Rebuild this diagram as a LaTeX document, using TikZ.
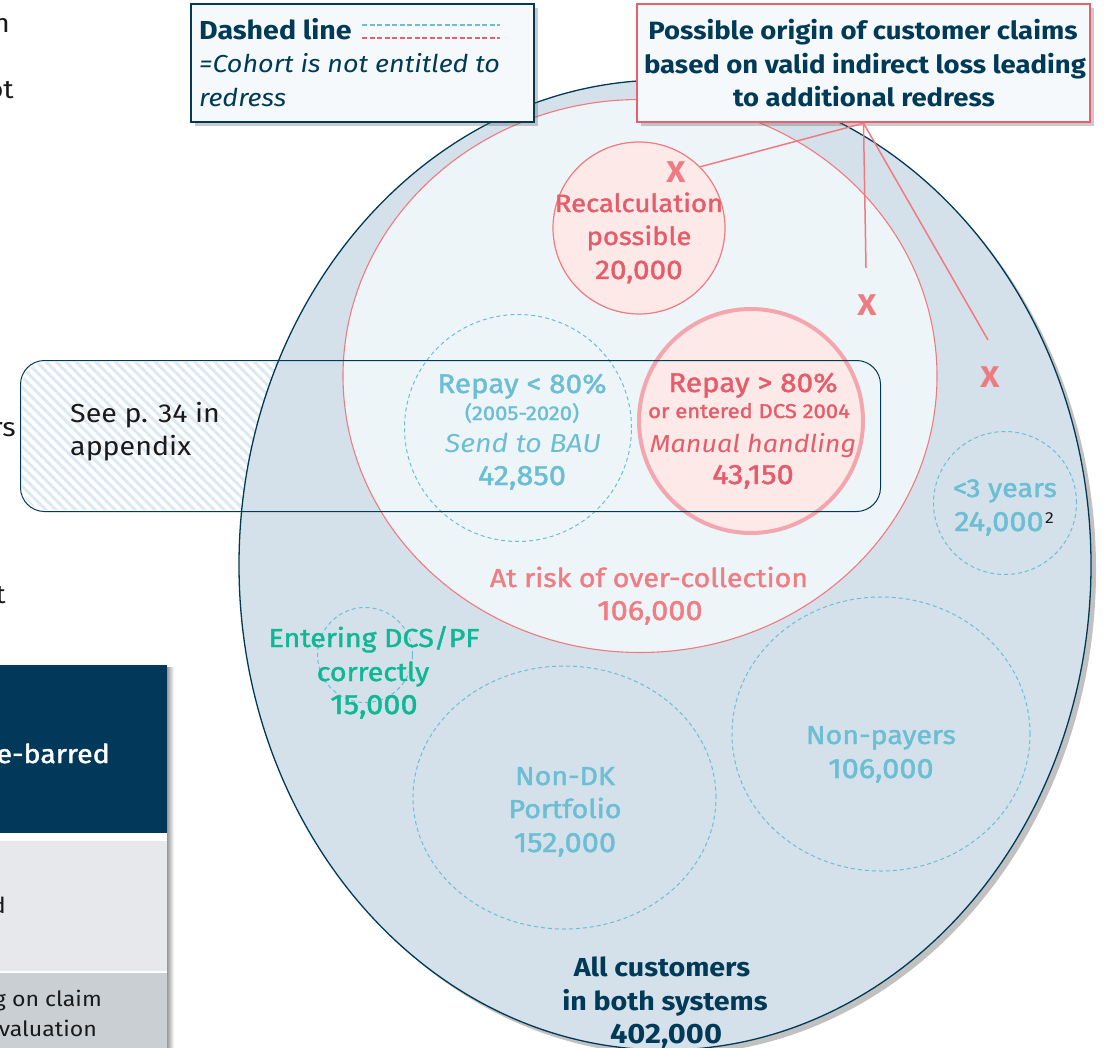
\documentclass[tikz,border=0pt]{standalone}
\usepackage{fontspec}
\setmainfont{Fira Sans}[FakeStretch=1.1]
\newfontfamily\fmed{Fira Sans}[FakeStretch=1.1,FakeBold=1.6]
\usetikzlibrary{shapes.geometric,shadows,patterns.meta}
\definecolor{navy}{HTML}{003A57}
\definecolor{outerfill}{HTML}{D4E1EA}
\definecolor{innerfill}{HTML}{EEF5F9}
\definecolor{redline}{HTML}{E8606F}
\definecolor{redc}{HTML}{F07A82}
\definecolor{pinkfill}{HTML}{FCE9E8}
\definecolor{pinkthick}{HTML}{F3A6AE}
\definecolor{cyan1}{HTML}{6BBED3}
\definecolor{teal1}{HTML}{10B795}
\definecolor{xred}{HTML}{EF7B82}
\definecolor{redtxt}{HTML}{E55C6A}
\definecolor{risktxt}{HTML}{EF7E84}
\definecolor{hatch}{HTML}{DCE9F3}
\definecolor{boxfill}{HTML}{F5F9FC}
\definecolor{hdr}{HTML}{02385A}
\definecolor{row2}{HTML}{E6E8EB}
\definecolor{row3}{HTML}{CACFD3}
\definecolor{ink}{HTML}{1A1A1A}
\newcommand{\SzF}[1]{\fontsize{#1}{#1}\selectfont}
\begin{document}
\begin{tikzpicture}[x=1pt,y=-1pt,
  t/.style={inner sep=0pt, anchor=base},
  tl/.style={inner sep=0pt, anchor=base west},
  tr/.style={inner sep=0pt, anchor=base east},
  cyd/.style={draw=cyan1, line width=1pt, dash pattern=on 4pt off 3pt},
  conn/.style={draw=xred, line width=1.5pt},
  xmark/.style={t, text=xred, font=\bfseries\SzF{30}},
  boxshadow/.style={drop shadow={shadow xshift=4pt, shadow yshift=-4pt, opacity=.35, fill=black!60}},
]
\useasboundingbox (0,0) rectangle (1115,1048);

% ---- table on the left (cut off)
\node (thdr) [fill=hdr, anchor=north west, inner sep=0pt, minimum width=167pt, minimum height=168pt] at (0,665) {};
\node (trow2) [fill=row2, anchor=north west, inner sep=0pt, minimum width=167pt, minimum height=130pt] at (0,841) {};
\node (trow3) [fill=row3, anchor=north west, inner sep=0pt, minimum width=167pt, minimum height=76pt] at (0,973) {};
\shade[left color=black!40, right color=white] (167,667) rectangle (174,1048);
\node (thdrT) [tr, text=white, font=\fmed\SzF{26}] at (110,763) {e-barred};
\node (trow2T) [tr, text=ink, font=\SzF{22}] at (6,913) {d};
\node (trow3a) [tr, text=ink, font=\SzF{21}] at (102,1006) {g on claim};
\node (trow3b) [tr, text=ink, font=\SzF{21}] at (97,1036) {evaluation};

% ---- cut-off texts on the left edge
\node (fr1) [tr, text=ink, font=\SzF{26}] at (10,33) {n};
\node (fr2) [tr, text=ink, font=\SzF{26}] at (14,99) {ot};
\node (fr3) [tr, text=ink, font=\SzF{26}] at (16,436) {rs};
\node (fr4) [tr, text=ink, font=\SzF{26}] at (6,603) {t};

% ---- hatched box (fill)
\node (seebox) [inner sep=0pt, minimum width=857pt, minimum height=148pt, rounded corners=24pt,
  pattern={Lines[angle=-45, distance=7pt, line width=3pt]}, pattern color=hatch] at (450.5,436) {};

% ---- circles
\node (allc) [ellipse, draw=navy, line width=1.3pt, fill=outerfill, minimum width=852pt, minimum height=970pt,
  drop shadow={shadow xshift=5pt, shadow yshift=-5pt, opacity=.35, fill=black!70}] at (665,565) {};
\node (risk) [ellipse, draw=redc, line width=1.1pt, fill=innerfill, minimum width=594pt, minimum height=553pt] at (640,376) {};
\node (recalc) [circle, draw=redc, line width=1.2pt, fill=pinkfill, minimum size=172pt] at (639,228) {};
\node (rlow) [circle, cyd, minimum size=227pt] at (518,428) {};
\node (rhigh) [circle, draw=pinkthick, line width=4pt, fill=pinkfill, minimum size=224pt] at (751,421) {};
\node (lt3) [circle, cyd, minimum size=143pt] at (1005,503) {};
\node (edcs) [circle, cyd, minimum size=95pt] at (365,655) {};
\node (ndk) [ellipse, cyd, minimum width=303pt, minimum height=263pt] at (564.5,797.5) {};
\node (npay) [ellipse, cyd, minimum width=298pt, minimum height=274pt] at (881,734) {};

% ---- hatched box outline
\draw[navy, line width=1pt, rounded corners=24pt] (seebox.north west) rectangle (seebox.south east);
\node (see1) [tl, text=ink, font=\SzF{26}] at (70,422) {See p. 34 in};
\node (see2) [tl, text=ink, font=\SzF{26}] at (70,455) {appendix};

% ---- texts in circles
\node (rc1) [t, text=redtxt, font=\fmed\SzF{25}] at (639,212) {Recalculation};
\node (rc2) [t, text=redtxt, font=\fmed\SzF{25}] at (639,245) {possible};
\node (rc3) [t, text=redtxt, font=\fmed\SzF{27}] at (639,279) {20,000};

\node (rl1) [t, text=cyan1, font=\fmed\SzF{27}] at (522,393) {Repay < 80\%};
\node (rl2) [t, text=cyan1, font=\fmed\SzF{20}] at (522,420) {(2005-2020)};
\node (rl3) [t, text=cyan1, font=\itshape\SzF{26}] at (523,452) {Send to BAU};
\node (rl4) [t, text=cyan1, font=\fmed\SzF{28}] at (522,485) {42,850};

\node (rh1) [t, text=redtxt, font=\fmed\SzF{27}] at (753,392) {Repay > 80\%};
\node (rh2) [t, text=redtxt, font=\fmed\SzF{20}] at (749,418) {or entered DCS 2004};
\node (rh3) [t, text=redtxt, font=\itshape\SzF{24.5}] at (753,452) {Manual handling};
\node (rh4) [t, text=redtxt, font=\fmed\SzF{28}] at (753,484) {43,150};

\node (rk1) [t, text=risktxt, font=\fmed\SzF{26}] at (649,587) {At risk of over-collection};
\node (rk2) [t, text=risktxt, font=\fmed\SzF{28}] at (650,620) {106,000};

\node (lt1) [t, text=cyan1, font=\fmed\SzF{26}] at (1005,497) {<3 years};
\node (lt2) [t, text=cyan1, font=\fmed\SzF{28}] at (999,531) {24,000};
\node (lt2s) [inner sep=0pt, anchor=base west, text=ink, font=\SzF{16}] at ([xshift=1pt,yshift=8pt]lt2.base east) {2};

\node (ed1) [t, text=teal1, font=\fmed\SzF{26}] at (374,647) {Entering DCS/PF};
\node (ed2) [t, text=teal1, font=\fmed\SzF{26}] at (373,681) {correctly};
\node (ed3) [t, text=teal1, font=\fmed\SzF{28}] at (374,714) {15,000};

\node (nd1) [t, text=cyan1, font=\fmed\SzF{26}] at (565,785) {Non-DK};
\node (nd2) [t, text=cyan1, font=\fmed\SzF{26}] at (565,818) {Portfolio};
\node (nd3) [t, text=cyan1, font=\fmed\SzF{28}] at (565,852) {152,000};

\node (np1) [t, text=cyan1, font=\fmed\SzF{26}] at (881,744) {Non-payers};
\node (np2) [t, text=cyan1, font=\fmed\SzF{28}] at (881,778) {106,000};

\node (al1) [t, text=navy, font=\bfseries\SzF{26}] at (662,976) {All customers};
\node (al2) [t, text=navy, font=\bfseries\SzF{26}] at (665,1010) {in both systems};
\node (al3) [t, text=navy, font=\bfseries\SzF{28}] at (666,1043) {402,000};

% ---- legend box
\node (legend) [draw=navy, line width=2.5pt, fill=boxfill, minimum width=343pt, minimum height=118pt, inner sep=0pt, boxshadow] at (362.5,63) {};
\node (lg1) [tl, text=navy, font=\bfseries\SzF{26}] at (199,40) {Dashed line};
\draw[cyan1, line width=2.5pt, dash pattern=on 5pt off 2.5pt] (362,25) -- (500,25);
\draw[redline, line width=2.5pt, dash pattern=on 5pt off 2.5pt] (362,38) -- (500,38);
\node (lg2) [tl, text=navy, font=\itshape\SzF{24.5}] at (199,73) {=Cohort is not entitled to};
\node (lg3) [tl, text=navy, font=\itshape\SzF{24.5}] at (199,107) {redress};

% ---- callout box
\node (callout) [draw=redline, line width=2.5pt, fill=boxfill, minimum width=453pt, minimum height=118pt, inner sep=0pt, boxshadow] at (863.5,63) {};
\node (co1) [t, text=navy, font=\bfseries\SzF{25}] at (863,40) {Possible origin of customer claims};
\node (co2) [t, text=navy, font=\bfseries\SzF{25}] at (865,74) {based on valid indirect loss leading};
\node (co3) [t, text=navy, font=\bfseries\SzF{25}] at (864,107) {to additional redress};

% ---- X marks and connectors
\node (x1) [xmark] at (676,183) {X};
\node (x2) [xmark] at (867,315) {X};
\node (x3) [xmark] at (990,387) {X};
\coordinate (e2) at (866,268);
\coordinate (e3) at (988,340);
\draw[conn] (callout.south) -- (recalc.45);
\draw[conn] (callout.south) -- (e2);
\draw[conn] (callout.south) -- (e3);
\end{tikzpicture}
\end{document}
